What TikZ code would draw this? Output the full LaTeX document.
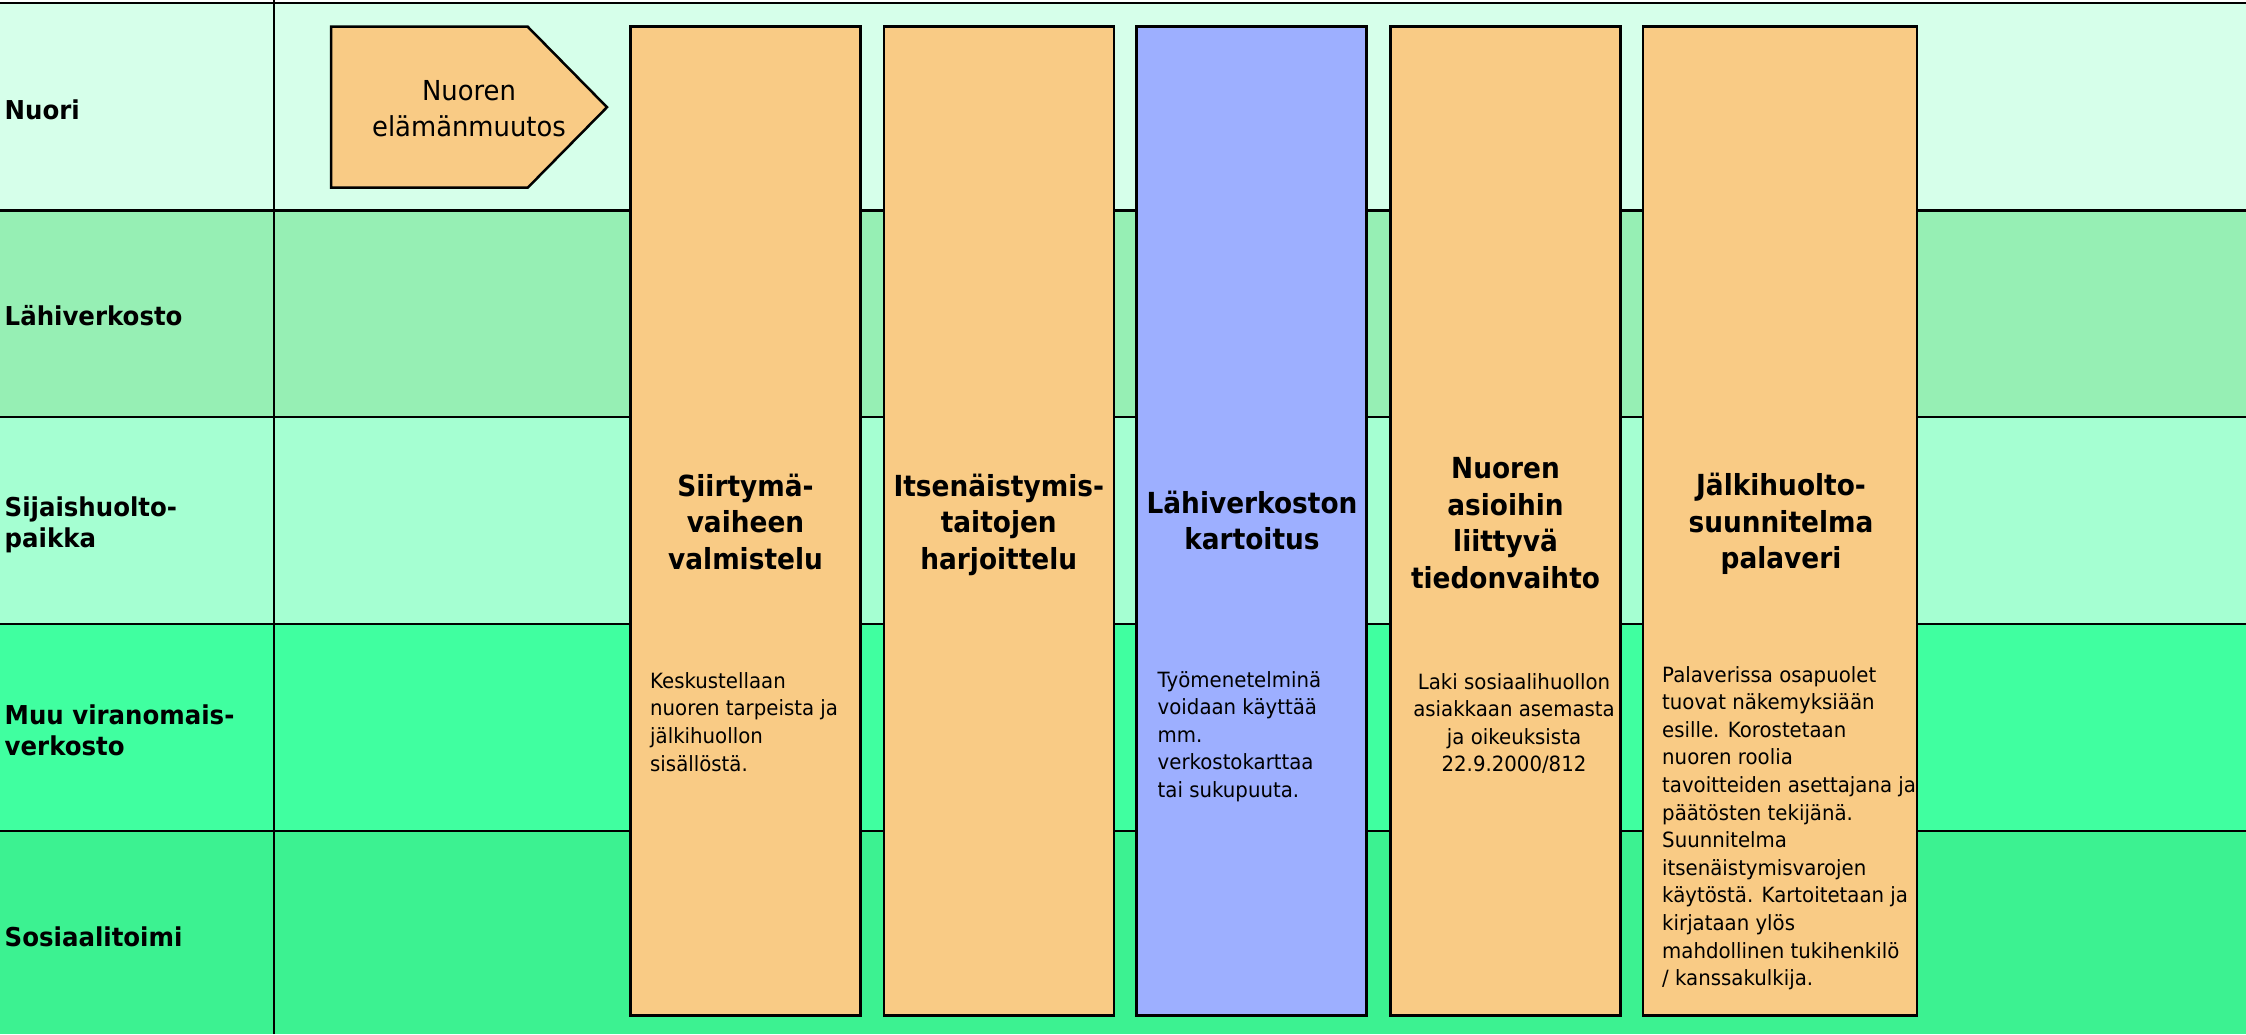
\documentclass[tikz,border=0pt]{standalone}
\usepackage{fontspec}
\newfontfamily\fa[FakeStretch=0.94]{DejaVu Sans}
\newfontfamily\fb[FakeStretch=0.91]{DejaVu Sans}
\definecolor{rowA}{RGB}{214,255,234}
\definecolor{rowB}{RGB}{150,239,180}
\definecolor{rowC}{RGB}{165,255,210}
\definecolor{rowD}{RGB}{64,255,160}
\definecolor{rowE}{RGB}{60,242,145}
\definecolor{stageorange}{RGB}{249,203,133}
\definecolor{stageblue}{RGB}{157,175,255}
\begin{document}
\begin{tikzpicture}[x=1pt,y=-1pt,
  gridline/.style={line width=2.5pt, draw=black},
  stagebox/.style={draw=black, line width=2.5pt, fill=stageorange, minimum width=230pt, minimum height=989pt, inner sep=0pt},
  penta/.style={draw=black, line width=2.5pt, fill=stageorange, line join=miter},
  lanelabel/.style={anchor=base west, inner sep=0pt, font=\fa\bfseries\fontsize{26pt}{31pt}\selectfont},
  stagetitle/.style={anchor=base, inner sep=0pt, font=\fb\bfseries\fontsize{29pt}{36.5pt}\selectfont},
  notetext/.style={inner sep=0pt, font=\fa\fontsize{21pt}{27.6pt}\selectfont},
  pentatext/.style={anchor=base, inner sep=0pt, font=\fa\fontsize{27.5pt}{36.7pt}\selectfont},
]
\useasboundingbox (0,0) rectangle (2246,1034);
% lanes
\fill[white] (0,0) rectangle (2246,3);
\fill[rowA] (0,3) rectangle (2246,210.7);
\fill[rowB] (0,210.7) rectangle (2246,416.8);
\fill[rowC] (0,416.8) rectangle (2246,624);
\fill[rowD] (0,624) rectangle (2246,831);
\fill[rowE] (0,831) rectangle (2246,1034);
\draw[gridline] (0,3) -- (2246,3);
\draw[gridline] (0,210.7) -- (2246,210.7);
\draw[gridline] (0,416.8) -- (2246,416.8);
\draw[gridline] (0,624) -- (2246,624);
\draw[gridline] (0,831) -- (2246,831);
\draw[gridline] (274,0) -- (274,1034);
% lane labels
\node[lanelabel] (lNuori) at (4.5,119.3) {Nuori};
\node[lanelabel] (lLahi) at (4.5,325) {Lähiverkosto};
\node[lanelabel] (lSijais) at (4.5,516.5) {\parbox[t]{260pt}{\raggedright Sijaishuolto-\\paikka}};
\node[lanelabel] (lMuu) at (4.5,724.3) {\parbox[t]{260pt}{\raggedright Muu viranomais-\\verkosto}};
\node[lanelabel] (lSos) at (4.5,946.7) {Sosiaalitoimi};
% start pentagon
\draw[penta] (331,26.7) -- (527.7,26.7) -- (607,107.2) -- (527.7,187.7) -- (331,187.7) -- cycle;
\node[pentatext] (muutos) at (469,100) {\parbox[t]{260pt}{\centering Nuoren\\elämänmuutos}};
% stage boxes
\node[stagebox] (s1) at (745.5,521.2) {};
\node[stagebox] (s2) at (998.75,521.2) {};
\node[stagebox, fill=stageblue] (s3) at (1251.5,521.2) {};
\node[stagebox] (s4) at (1505.5,521.2) {};
\node[stagebox, minimum width=274.3pt] (s5) at (1779.9,521.2) {};
% titles
\node[stagetitle] (t1) at (745.5,496) {\parbox[t]{260pt}{\centering Siirtymä-\\vaiheen\\valmistelu}};
\node[stagetitle] (t2) at (998.75,496) {\parbox[t]{260pt}{\centering Itsenäistymis-\\taitojen\\harjoittelu}};
\node[stagetitle] (t3) at (1252,513.3) {\parbox[t]{260pt}{\centering Lähiverkoston\\kartoitus}};
\node[stagetitle] (t4) at (1505.5,478.5) {\parbox[t]{260pt}{\centering Nuoren\\asioihin\\liittyvä\\tiedonvaihto}};
\node[stagetitle] (t5) at (1781,495.7) {\parbox[t]{300pt}{\centering Jälkihuolto-\\suunnitelma\\palaveri}};
% notes
\node[notetext, anchor=base west] (n1) at (650,688.3) {\parbox[t]{260pt}{\raggedright Keskustellaan\\nuoren tarpeista ja\\jälkihuollon\\sisällöstä.}};
\node[notetext, anchor=base west] (n3) at (1157.5,687) {\parbox[t]{260pt}{\raggedright Työmenetelminä\\voidaan käyttää\\mm.\\verkostokarttaa\\tai sukupuuta.}};
\node[notetext, anchor=base] (n4) at (1514,689) {\parbox[t]{260pt}{\centering Laki sosiaalihuollon\\asiakkaan asemasta\\ja oikeuksista\\22.9.2000/812}};
\node[notetext, anchor=base west] (n5) at (1662,682) {\parbox[t]{300pt}{\raggedright Palaverissa osapuolet\\tuovat näkemyksiään\\esille. Korostetaan\\nuoren roolia\\tavoitteiden asettajana ja\\päätösten tekijänä.\\Suunnitelma\\itsenäistymisvarojen\\käytöstä. Kartoitetaan ja\\kirjataan ylös\\mahdollinen tukihenkilö\\/ kanssakulkija.}};
\end{tikzpicture}
\end{document}
